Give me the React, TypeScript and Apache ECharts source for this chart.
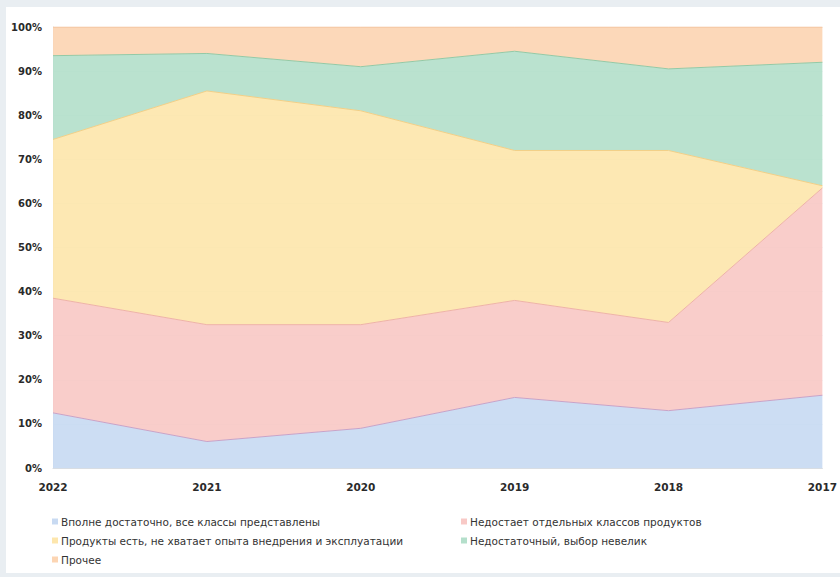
import React, { useEffect, useRef } from "react";
import * as echarts from "echarts";

// Survey years, newest first
const years = ["2022", "2021", "2020", "2019", "2018", "2017"];

// Share of answers per year, %
const fullySufficient = [12.5, 6, 9, 16, 13, 16.5];
const missingClasses = [26, 26.5, 23.5, 22, 20, 47];
const lackExperience = [36, 53, 48.5, 34, 39, 0.5];
const smallChoice = [19, 8.5, 10, 22.5, 18.5, 28];
const other = [6.5, 6, 9, 5.5, 9.5, 8];

const seriesNames = [
  "Вполне достаточно, все классы представлены",
  "Недостает отдельных классов продуктов",
  "Продукты есть, не хватает опыта внедрения и эксплуатации",
  "Недостаточный, выбор невелик",
  "Прочее",
];

const fills = ["#c8daf2", "#f8c9c6", "#fde6ad", "#b4dfcb", "#fcd5b3"];
const strokes = ["#c7a3c8", "#eeb2a8", "#f3cf86", "#93c9a6", "#f2bf98"];

export default function App() {
  const ref = useRef<HTMLDivElement>(null);

  useEffect(() => {
    if (!ref.current) return;
    const chart = echarts.init(ref.current, undefined, { renderer: "svg" });
    const values = [fullySufficient, missingClasses, lackExperience, smallChoice, other];
    const font = "'DejaVu Sans', Verdana, sans-serif";

    const legendBase = {
      top: 511,
      orient: "vertical",
      itemGap: 8,
      itemWidth: 6,
      itemHeight: 6,
      icon: "rect",
      textStyle: { color: "#333", fontSize: 10.5, padding: [0, 0, 0, -2], fontFamily: font },
    };

    chart.setOption({
      animation: false,
      backgroundColor: "#e9eef2",
      textStyle: { fontFamily: font },
      graphic: [
        {
          type: "rect",
          z: -10,
          silent: true,
          shape: { x: 6, y: 7, width: 840, height: 566 },
          style: { fill: "#ffffff" },
        },
      ],
      grid: { left: 53, right: 8, top: 27, bottom: 109, containLabel: false },
      xAxis: {
        type: "category",
        boundaryGap: false,
        data: years,
        axisLine: { show: true, lineStyle: { color: "#d8dde3" } },
        axisTick: { show: false },
        splitLine: { show: false },
        axisLabel: {
          color: "#2a2a2a",
          fontSize: 10.5,
          fontWeight: "bold",
          margin: 13,
          fontFamily: font,
        },
      },
      yAxis: {
        type: "value",
        min: 0,
        max: 100,
        interval: 10,
        axisLine: { show: true, lineStyle: { color: "#dde2e8" } },
        axisTick: { show: false },
        splitLine: { show: true, lineStyle: { color: "#e6e9ee", width: 1 } },
        axisLabel: {
          formatter: "{value}%",
          color: "#2a2a2a",
          fontSize: 10,
          fontWeight: "bold",
          margin: 11,
          fontFamily: font,
        },
      },
      legend: [
        { ...legendBase, left: 47, data: [seriesNames[0], seriesNames[2], seriesNames[4]] },
        { ...legendBase, left: 456, data: [seriesNames[1], seriesNames[3]] },
      ],
      series: seriesNames.map((name, i) => ({
        name,
        type: "line",
        stack: "total",
        data: values[i],
        symbol: "none",
        color: fills[i],
        lineStyle: { color: strokes[i], width: 1 },
        areaStyle: { color: fills[i], opacity: 0.92 },
        z: 2,
      })),
    });

    return () => chart.dispose();
  }, []);

  return (
    <div
      ref={ref}
      style={{ position: "absolute", left: 0, top: 0, width: 840, height: 577 }}
    />
  );
}
